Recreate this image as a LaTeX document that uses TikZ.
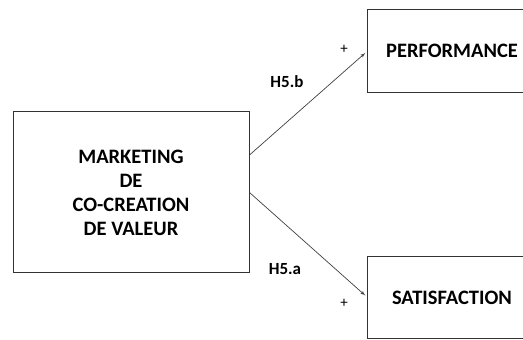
\documentclass[tikz,border=0pt]{standalone}
\usepackage{fontspec}
\setmainfont{Carlito}
\usetikzlibrary{arrows,positioning,calc}

\begin{document}
\begin{tikzpicture}[x=1pt, y=1pt]
\tikzset{
    %czubek strzalki
    >=latex',
    %styl pudelka
    pudlo/.style={
           rectangle,
           draw=black!80, line width=1pt,
           inner sep=0pt,
           font=\fontsize{20.5}{24}\selectfont\bfseries,
           align=center},
    %pudlo uciete z prawej
    pudlootw/.style={pudlo, draw=none},
    ramka/.style={draw=black!80, line width=1pt},
    etykieta/.style={font=\fontsize{17}{20}\selectfont\bfseries},
    znak/.style={font=\fontsize{15}{18}\selectfont},
    strzalka/.style={->, draw=black!75, line width=0.7pt, shorten >=3pt}
}
\useasboundingbox (0,0) rectangle (523,340);
\clip (0,0) rectangle (523,340);
%\draw[help lines,lightgray] grid (523,340);

%Pudla
\node[pudlo, minimum width=236, minimum height=161] (marketing) at (131,147.5)
    {MARKETING\\DE\\CO-CREATION\\DE VALEUR};
\node[pudlootw, minimum width=168, minimum height=82] (performance) at (452,289) {PERFORMANCE};
\node[pudlootw, minimum width=168, minimum height=81] (satisfaction) at (452,42.5) {SATISFACTION};
\draw[ramka] (performance.north east) -- (performance.north west)
    -- (performance.south west) -- (performance.south east);
\draw[ramka] (satisfaction.north east) -- (satisfaction.north west)
    -- (satisfaction.south west) -- (satisfaction.south east);

%Etykiety
\node[etykieta] (h5b) at (287,258) {H5.b};
\node[etykieta] (h5a) at (285,71) {H5.a};
\node[znak] (plus1) at (344,291) {+};
\node[znak] (plus2) at (344,37) {+};

%Strzalki
\coordinate (start1) at ($(marketing.east)+(0,37.5)$);
\draw[strzalka] (start1) -- (performance.west);
\draw[strzalka] (marketing.east) -- (satisfaction.west);
\end{tikzpicture}
\end{document}
